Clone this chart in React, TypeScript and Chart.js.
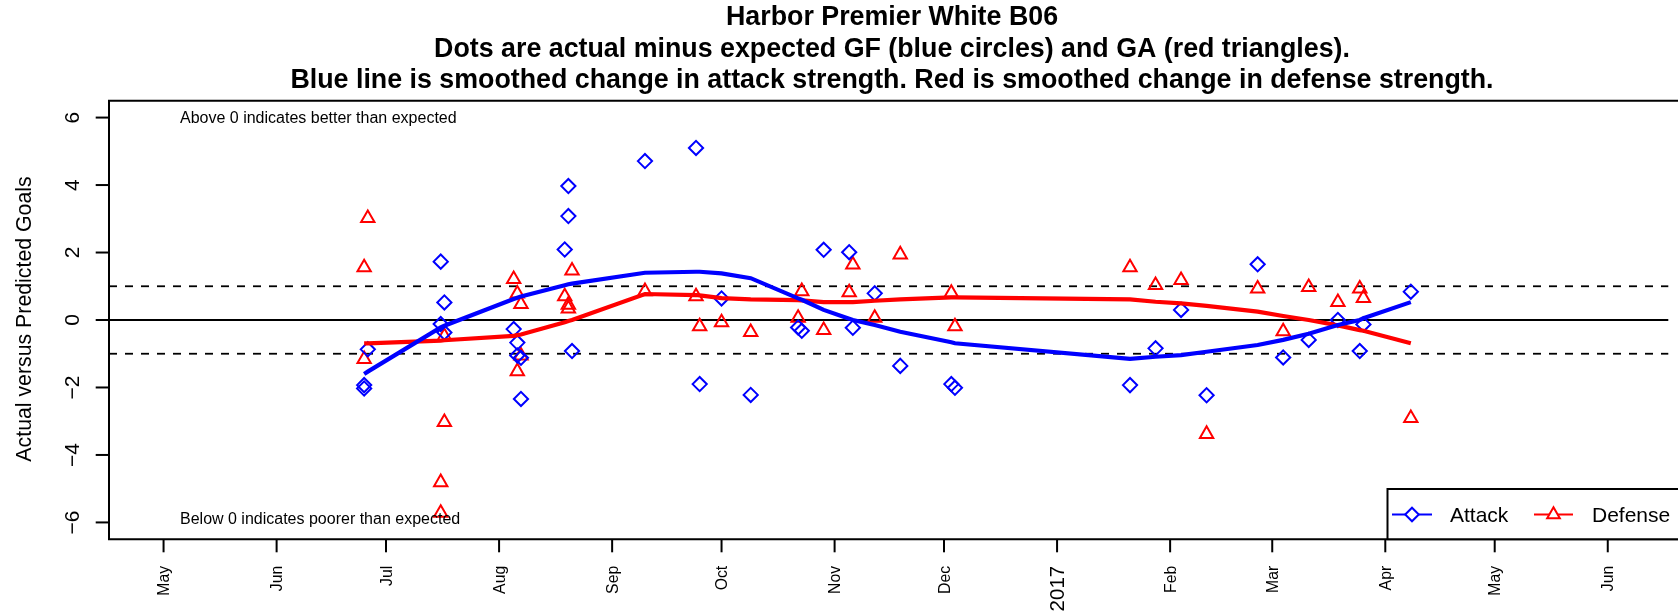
import React, { useEffect, useRef } from 'react';
import { Chart, registerables } from 'chart.js';

Chart.register(...registerables);

// ---------------- data ----------------
const gameDates = [
  '2016-06-25', '2016-06-25', '2016-06-26', '2016-07-16', '2016-07-16', '2016-07-17', '2016-07-17',
  '2016-08-05', '2016-08-06', '2016-08-06', '2016-08-07', '2016-08-07', '2016-08-19', '2016-08-20',
  '2016-08-20', '2016-08-21', '2016-09-10', '2016-09-24', '2016-09-25', '2016-10-01', '2016-10-09',
  '2016-10-22', '2016-10-23', '2016-10-29', '2016-11-05', '2016-11-06', '2016-11-12', '2016-11-19',
  '2016-12-03', '2016-12-04', '2017-01-21', '2017-01-28', '2017-02-04', '2017-02-11', '2017-02-25',
  '2017-03-04', '2017-03-11', '2017-03-19', '2017-03-25', '2017-03-26', '2017-04-08',
];
const attackDiff = [
  -1.93, -2.03, -0.87, 1.73, -0.12, 0.52, -0.37,
  -0.27, -0.67, -1.05, -1.12, -2.34, 2.09, 3.97,
  3.08, -0.92, 4.71, 5.10, -1.90, 0.64, -2.22,
  -0.22, -0.32, 2.08, 2.01, -0.23, 0.79, -1.36,
  -1.90, -2.01, -1.93, -0.84, 0.30, -2.23, 1.65,
  -1.11, -0.59, 0.00, -0.92, -0.13, 0.84,
];
const defenseDiff = [
  1.56, -1.16, 3.02, -4.81, -5.72, -0.48, -3.03,
  1.21, 0.78, -1.52, 0.47, -1.06, 0.70, 0.45,
  0.34, 1.46, 0.85, 0.70, -0.19, -0.07, -0.36,
  0.06, 0.85, -0.30, 0.82, 1.64, 0.06, 1.94,
  0.80, -0.19, 1.56, 1.03, 1.18, -3.38, 0.93,
  -0.34, 0.97, 0.53, 0.93, 0.65, -2.91,
];
const smoothDates = [
  '2016-06-25', '2016-06-26', '2016-07-16', '2016-07-17', '2016-08-05', '2016-08-06', '2016-08-07',
  '2016-08-19', '2016-08-20', '2016-08-21', '2016-09-10', '2016-09-24', '2016-09-25', '2016-10-01',
  '2016-10-09', '2016-10-22', '2016-10-23', '2016-10-29', '2016-11-05', '2016-11-06', '2016-11-12',
  '2016-11-19', '2016-12-03', '2016-12-04', '2017-01-21', '2017-01-28', '2017-02-04', '2017-02-11',
  '2017-02-25', '2017-03-04', '2017-03-11', '2017-03-19', '2017-03-25', '2017-03-26', '2017-04-08',
];
const attackSmooth = [
  -1.60, -1.53, -0.22, -0.17, 0.62, 0.66, 0.70,
  1.03, 1.06, 1.08, 1.40, 1.43, 1.43, 1.38,
  1.24, 0.64, 0.60, 0.30, 0.04, 0.00, -0.15,
  -0.35, -0.66, -0.69, -1.15, -1.09, -1.04, -0.94,
  -0.74, -0.59, -0.41, -0.15, 0.00, 0.05, 0.53,
];
const defenseSmooth = [
  -0.69, -0.69, -0.61, -0.60, -0.47, -0.45, -0.43,
  -0.07, -0.03, 0.00, 0.77, 0.74, 0.73, 0.65,
  0.61, 0.59, 0.58, 0.53, 0.53, 0.53, 0.57,
  0.61, 0.67, 0.67, 0.61, 0.54, 0.49, 0.42,
  0.25, 0.12, 0.00, -0.16, -0.30, -0.32, -0.69,
];
const monthTicks = [
  '2016-05-01', '2016-06-01', '2016-07-01', '2016-08-01', '2016-09-01', '2016-10-01', '2016-11-01',
  '2016-12-01', '2017-01-01', '2017-02-01', '2017-03-01', '2017-04-01', '2017-05-01', '2017-06-01',
];
const monthLabels = ['May', 'Jun', 'Jul', 'Aug', 'Sep', 'Oct', 'Nov', 'Dec', '2017', 'Feb', 'Mar', 'Apr', 'May', 'Jun'];
const yTicks = [-6, -4, -2, 0, 2, 4, 6];
const yTickLabels = ['\u22126', '\u22124', '\u22122', '0', '2', '4', '6'];
const dashedRefs = [1, -1];
const titleLines = [
  'Harbor Premier White B06',
  'Dots are actual minus expected GF (blue circles) and GA (red triangles).',
  'Blue line is smoothed change in attack strength. Red is smoothed change in defense strength.',
];
const yAxisTitle = 'Actual versus Predicted Goals';
const noteAbove = 'Above 0 indicates better than expected';
const noteBelow = 'Below 0 indicates poorer than expected';
const legendNames = ['Attack', 'Defense'];

// ---------------- helpers ----------------
const DAY = 86400000;
const toMs = (d: string) => Date.parse(d + 'T00:00:00Z');
const X_MIN = toMs('2016-05-01') - 14.96 * DAY;
const X_MAX = toMs('2016-05-01') + 412.6 * DAY;
const FONT = "'Liberation Sans', Arial, Helvetica, sans-serif";
const BLUE = '#0000FF';
const RED = '#FF0000';
const DIAMOND_R = 7.1;
const TRIANGLE_R = 7.7;
const MARK_W = 2;

function diamondPath(ctx: CanvasRenderingContext2D, x: number, y: number, r: number) {
  ctx.beginPath();
  ctx.moveTo(x - r, y);
  ctx.lineTo(x, y - r);
  ctx.lineTo(x + r, y);
  ctx.lineTo(x, y + r);
  ctx.closePath();
}
function trianglePath(ctx: CanvasRenderingContext2D, x: number, y: number, r: number) {
  const hw = r * Math.sin(Math.PI / 3);
  ctx.beginPath();
  ctx.moveTo(x, y - r);
  ctx.lineTo(x + hw, y + r / 2);
  ctx.lineTo(x - hw, y + r / 2);
  ctx.closePath();
}

const decorPlugin = {
  id: 'decor',
  beforeDatasetsDraw(chart: any) {
    const { ctx, chartArea: a } = chart;
    const ys = chart.scales.y;
    ctx.save();
    ctx.strokeStyle = '#000';
    ctx.lineWidth = 1.8;
    const y0 = ys.getPixelForValue(0);
    ctx.beginPath();
    ctx.moveTo(a.left, y0);
    ctx.lineTo(a.right, y0);
    ctx.stroke();
    ctx.setLineDash([8, 8]);
    for (const v of dashedRefs) {
      const py = ys.getPixelForValue(v);
      ctx.beginPath();
      ctx.moveTo(a.left, py);
      ctx.lineTo(a.right, py);
      ctx.stroke();
    }
    ctx.restore();
  },
  afterDatasetsDraw(chart: any) {
    const { ctx, chartArea: a } = chart;
    const xs = chart.scales.x;
    const ys = chart.scales.y;
    ctx.save();
    ctx.setLineDash([]);
    ctx.strokeStyle = '#000';
    ctx.fillStyle = '#000';
    ctx.lineWidth = 2;
    ctx.lineJoin = 'miter';

    // plot box (right side lies beyond the image)
    ctx.beginPath();
    ctx.moveTo(a.right + 10, a.top);
    ctx.lineTo(a.left, a.top);
    ctx.lineTo(a.left, a.bottom);
    ctx.lineTo(a.right + 10, a.bottom);
    ctx.stroke();

    // y axis ticks + labels
    ctx.font = `21px ${FONT}`;
    yTicks.forEach((v, i) => {
      const py = ys.getPixelForValue(v);
      ctx.beginPath();
      ctx.moveTo(a.left, py);
      ctx.lineTo(a.left - 13.3, py);
      ctx.stroke();
      ctx.save();
      ctx.translate(a.left - 29.8, py);
      ctx.rotate(-Math.PI / 2);
      ctx.textAlign = 'center';
      ctx.textBaseline = 'alphabetic';
      ctx.fillText(yTickLabels[i], 0, 0);
      ctx.restore();
    });
    // y axis title
    ctx.save();
    ctx.translate(31, ys.getPixelForValue(0) - 1);
    ctx.rotate(-Math.PI / 2);
    ctx.textAlign = 'center';
    ctx.textBaseline = 'alphabetic';
    ctx.font = `21.3px ${FONT}`;
    ctx.fillText(yAxisTitle, 0, 0);
    ctx.restore();

    // x axis ticks + labels
    monthTicks.forEach((d, i) => {
      const px = xs.getPixelForValue(toMs(d));
      ctx.beginPath();
      ctx.moveTo(px, a.bottom);
      ctx.lineTo(px, a.bottom + 13);
      ctx.stroke();
      const isYear = monthLabels[i] === '2017';
      const size = isYear ? 20.5 : 15.8;
      ctx.save();
      ctx.translate(px + 0.358 * size, a.bottom + 26.5);
      ctx.rotate(-Math.PI / 2);
      ctx.textAlign = 'right';
      ctx.textBaseline = 'alphabetic';
      ctx.font = `${size}px ${FONT}`;
      ctx.fillText(monthLabels[i], 0, 0);
      ctx.restore();
    });

    // notes
    ctx.font = `16px ${FONT}`;
    ctx.textAlign = 'left';
    ctx.textBaseline = 'alphabetic';
    ctx.fillText(noteAbove, a.left + 71, ys.getPixelForValue(6) + 5.9);
    ctx.fillText(noteBelow, a.left + 71, ys.getPixelForValue(-5.88) + 5.9);

    // title (three lines, R-style 1.2 line height)
    ctx.font = `bold 26.8px ${FONT}`;
    ctx.textAlign = 'center';
    const baselines = [24.8, 56.5, 88.2];
    titleLines.forEach((t, i) => ctx.fillText(t, 892, baselines[i]));

    // legend
    const lx = 1387.5;
    const ly = 489;
    ctx.fillStyle = '#fff';
    ctx.fillRect(lx, ly, chart.width - lx + 10, a.bottom - ly);
    ctx.strokeStyle = '#000';
    ctx.lineWidth = 2;
    ctx.beginPath();
    ctx.moveTo(chart.width + 10, ly);
    ctx.lineTo(lx, ly);
    ctx.lineTo(lx, a.bottom);
    ctx.lineTo(chart.width + 10, a.bottom);
    ctx.stroke();
    const my = 514.5;
    ctx.lineWidth = 2;
    ctx.strokeStyle = BLUE;
    ctx.beginPath();
    ctx.moveTo(1392, my);
    ctx.lineTo(1432, my);
    ctx.stroke();
    ctx.lineWidth = MARK_W;
    diamondPath(ctx, 1412, my, 6.8);
    ctx.fillStyle = '#fff';
    ctx.fill();
    ctx.stroke();
    ctx.strokeStyle = RED;
    ctx.lineWidth = 2;
    ctx.beginPath();
    ctx.moveTo(1534, my);
    ctx.lineTo(1573, my);
    ctx.stroke();
    ctx.lineWidth = MARK_W;
    trianglePath(ctx, 1553.5, my, 7.3);
    ctx.fillStyle = '#fff';
    ctx.fill();
    ctx.stroke();
    ctx.fillStyle = '#000';
    ctx.font = `21px ${FONT}`;
    ctx.textAlign = 'left';
    ctx.fillText(legendNames[0], 1450, my + 7.5);
    ctx.fillText(legendNames[1], 1592, my + 7.5);

    ctx.restore();
  },
};

export default function App() {
  const canvasRef = useRef<HTMLCanvasElement | null>(null);

  useEffect(() => {
    const canvas = canvasRef.current;
    if (!canvas) return;
    const pts = (vals: number[], dates: string[]) => vals.map((v, i) => ({ x: toMs(dates[i]), y: v }));
    const chart = new Chart(canvas, {
      type: 'scatter',
      data: {
        datasets: [
          {
            label: 'Attack smooth',
            data: pts(attackSmooth, smoothDates),
            showLine: true,
            borderColor: BLUE,
            borderWidth: 4.2,
            pointRadius: 0,
            tension: 0,
            fill: false,
          },
          {
            label: 'Defense smooth',
            data: pts(defenseSmooth, smoothDates),
            showLine: true,
            borderColor: RED,
            borderWidth: 4.2,
            pointRadius: 0,
            tension: 0,
            fill: false,
          },
          {
            label: legendNames[0],
            data: pts(attackDiff, gameDates),
            pointStyle: 'rectRot',
            pointRadius: DIAMOND_R,
            pointBorderWidth: MARK_W,
            pointBorderColor: BLUE,
            pointBackgroundColor: 'rgba(0,0,0,0)',
            showLine: false,
          },
          {
            label: legendNames[1],
            data: pts(defenseDiff, gameDates),
            pointStyle: 'triangle',
            pointRadius: TRIANGLE_R,
            pointBorderWidth: MARK_W,
            pointBorderColor: RED,
            pointBackgroundColor: 'rgba(0,0,0,0)',
            showLine: false,
          },
        ],
      },
      options: {
        responsive: false,
        animation: false,
        events: [],
        layout: { padding: { left: 109, top: 100.7, right: 0, bottom: 616 - 539.3 } },
        plugins: {
          legend: { display: false },
          title: { display: false },
          tooltip: { enabled: false },
        },
        scales: {
          x: { type: 'linear', min: X_MIN, max: X_MAX, display: false },
          y: { type: 'linear', min: -6.5, max: 6.5, display: false },
        },
      },
      plugins: [decorPlugin],
    } as any);
    return () => chart.destroy();
  }, []);

  return (
    <div style={{ position: 'absolute', left: 0, top: 0, width: 1678, height: 616, background: '#fff' }}>
      <canvas ref={canvasRef} width={1678} height={616} style={{ width: 1678, height: 616, display: 'block' }} />
    </div>
  );
}
